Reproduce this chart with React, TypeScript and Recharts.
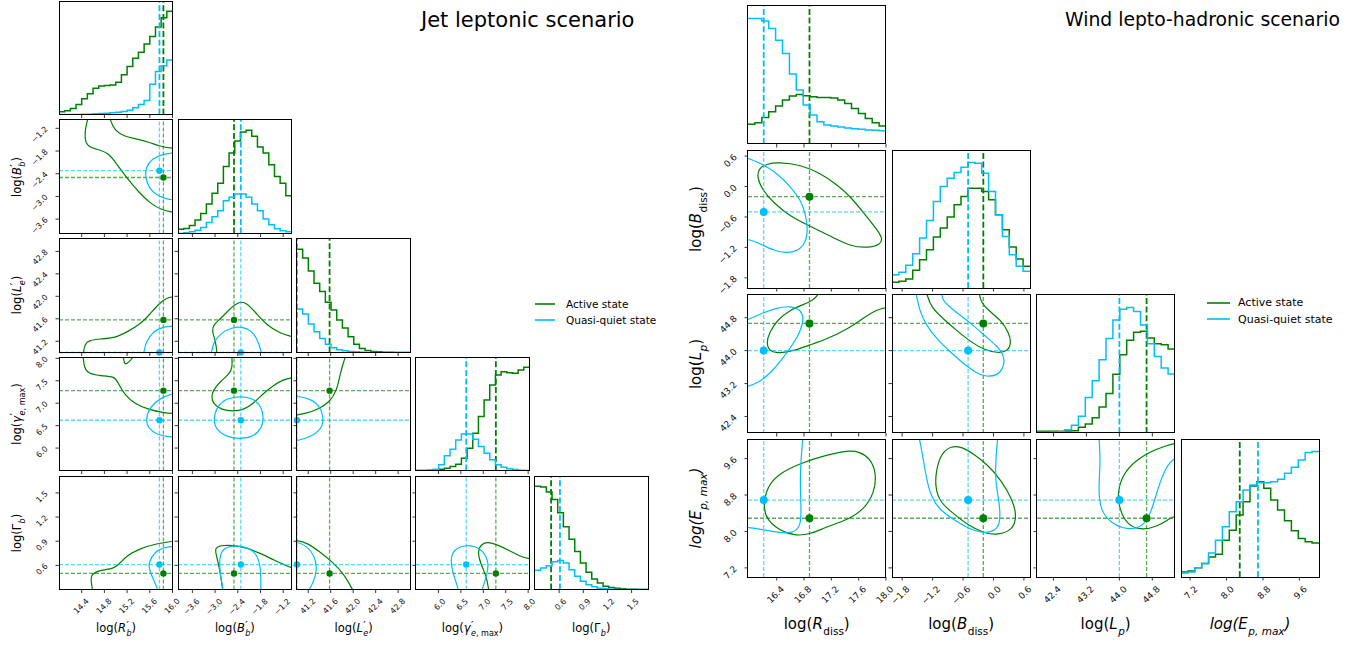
import React from "react";
import { ComposedChart, Line, XAxis, YAxis, ReferenceLine, ReferenceDot } from "recharts";

const GREEN = "#008000";
const BLUE = "#00bfff";
const FONT = "'DejaVu Sans', sans-serif";

type Pts = [number, number][];

// ---------------- Jet leptonic scenario (left corner plot) ----------------
const jetDomains: [number, number][] = [[14.0, 16.0], [-3.98, -0.98], [41.0, 43.02], [5.5, 8.03], [0.3, 1.71]];
const jetTicks: number[][] = [
  [14.4, 14.8, 15.2, 15.6, 16.0],
  [-3.6, -3.0, -2.4, -1.8, -1.2],
  [41.2, 41.6, 42.0, 42.4, 42.8],
  [6.0, 6.5, 7.0, 7.5, 8.0],
  [0.6, 0.9, 1.2, 1.5],
];
const jetActiveBest = [15.84, -2.5, 41.58, 7.28, 0.5];
const jetQuietBest = [15.77, -2.32, 41.0, 6.62, 0.61];

// histogram counts (20 bins across each panel range)
const jetActiveHist: number[][] = [
  [8, 11, 18, 30, 47, 62, 78, 85, 86, 88, 96, 118, 143, 167, 185, 210, 232, 260, 288, 307],
  [13, 15, 24, 40, 60, 88, 120, 150, 200, 240, 276, 303, 308, 290, 258, 240, 205, 170, 150, 113],
  [308, 282, 243, 207, 182, 150, 127, 97, 73, 47, 25, 12, 6, 3, 2, 1, 1, 0, 0, 0],
  [0, 0, 1, 2, 4, 7, 12, 19, 37, 67, 112, 162, 212, 257, 287, 297, 294, 292, 302, 310],
  [312, 310, 295, 272, 232, 190, 152, 115, 80, 52, 32, 20, 10, 6, 4, 2, 1, 1, 0, 0],
];
const jetQuietHist: number[][] = [
  [0, 0, 0, 0, 1, 1, 2, 3, 4, 5, 7, 9, 13, 20, 30, 42, 90, 128, 145, 162],
  [0, 2, 5, 10, 18, 33, 50, 68, 98, 108, 118, 118, 108, 88, 68, 43, 26, 14, 8, 5],
  [130, 115, 85, 62, 42, 25, 14, 8, 5, 3, 2, 1, 0, 0, 0, 0, 0, 0, 0, 0],
  [0, 0, 1, 4, 17, 44, 64, 92, 110, 110, 94, 72, 52, 32, 17, 10, 5, 3, 1, 0],
  [58, 65, 72, 84, 88, 80, 60, 40, 25, 14, 8, 4, 2, 1, 0, 0, 0, 0, 0, 0],
];

// 2D contours, [x, y] in data units
const jetBvsRActive: Pts = [[16.08, -3.44], [16.0, -3.42], [15.78, -3.34], [15.6, -3.17], [15.43, -2.92], [15.31, -2.72], [15.13, -2.38], [14.98, -2.07], [14.87, -1.86], [14.72, -1.77], [14.51, -1.7], [14.45, -1.48], [14.47, -1.17], [14.5, -0.98], [14.57, -0.65], [14.72, -0.56], [14.87, -0.73], [14.9, -0.98], [14.98, -1.26], [15.16, -1.42], [15.37, -1.48], [15.58, -1.56], [15.78, -1.68], [16.0, -1.73], [16.14, -1.75]];
const jetBvsRQuiet: Pts = [[16.14, -1.85], [16.0, -1.85], [15.84, -1.88], [15.63, -2.01], [15.53, -2.23], [15.52, -2.5], [15.58, -2.76], [15.72, -2.98], [15.9, -3.07], [16.0, -3.09], [16.14, -3.1]];
const jetLvsRActive: Pts = [[14.41, 40.91], [14.43, 40.98], [14.45, 41.15], [14.54, 41.22], [14.72, 41.24], [14.99, 41.26], [15.19, 41.36], [15.43, 41.5], [15.6, 41.68], [15.78, 41.89], [15.9, 41.97], [16.0, 41.99], [16.14, 42.0]];
const jetLvsRQuiet: Pts = [[15.48, 40.91], [15.49, 40.98], [15.53, 41.19], [15.66, 41.38], [15.84, 41.46], [16.0, 41.47], [16.14, 41.48]];
const jetLvsBActive: Pts = [[-2.94, 40.91], [-2.95, 40.98], [-2.98, 41.19], [-3.08, 41.37], [-3.05, 41.49], [-2.87, 41.59], [-2.61, 41.78], [-2.36, 41.91], [-2.17, 41.89], [-1.9, 41.69], [-1.64, 41.49], [-1.28, 41.34], [-0.98, 41.28], [-0.75, 41.26]];
const jetLvsBQuiet: Pts = [[-3.11, 40.91], [-3.1, 40.98], [-3.05, 41.18], [-2.83, 41.36], [-2.52, 41.45], [-2.3, 41.46], [-2.03, 41.39], [-1.86, 41.21], [-1.77, 40.98], [-1.75, 40.91]];
const jetGvsRActive: Pts = [[14.41, 8.1], [14.43, 8.03], [14.44, 7.81], [14.51, 7.66], [14.72, 7.61], [14.99, 7.6], [15.04, 7.45], [15.15, 7.2], [15.34, 6.98], [15.6, 6.85], [15.84, 6.79], [16.0, 6.77], [16.14, 6.76]];
const jetGvsRActiveHook: Pts = [[15.13, 8.07], [15.15, 7.85], [15.22, 7.9], [15.3, 8.01], [15.31, 8.07]];
const jetGvsRQuiet: Pts = [[16.14, 7.23], [16.0, 7.22], [15.78, 7.11], [15.6, 6.92], [15.52, 6.61], [15.58, 6.44], [15.72, 6.29], [16.0, 6.24], [16.14, 6.24]];
const jetGvsBActive: Pts = [[-2.55, 8.1], [-2.56, 8.03], [-2.54, 7.81], [-2.61, 7.66], [-2.87, 7.48], [-3.05, 7.29], [-3.1, 7.14], [-3.05, 6.99], [-2.83, 6.85], [-2.52, 6.82], [-2.25, 6.85], [-1.99, 6.99], [-1.72, 7.22], [-1.46, 7.4], [-1.19, 7.53], [-0.98, 7.57], [-0.75, 7.59]];
const jetGvsBQuiet: Pts = [[-2.34, 7.16], [-2.7, 7.11], [-2.96, 6.92], [-3.05, 6.62], [-2.96, 6.4], [-2.7, 6.25], [-2.34, 6.2], [-1.99, 6.25], [-1.77, 6.44], [-1.71, 6.66], [-1.77, 6.92], [-1.99, 7.11]];
const jetGvsLActive: Pts = [[41.87, 8.1], [41.86, 8.03], [41.82, 7.88], [41.77, 7.66], [41.71, 7.29], [41.59, 7.03], [41.36, 6.85], [41.12, 6.76], [41.0, 6.74], [40.88, 6.72]];
const jetGvsLQuiet: Pts = [[40.88, 7.16], [41.0, 7.16], [41.24, 7.1], [41.42, 6.92], [41.48, 6.62], [41.42, 6.4], [41.24, 6.25], [41.03, 6.17], [40.88, 6.15]];
const jetGamvsRActive: Pts = [[14.6, 0.25], [14.59, 0.3], [14.56, 0.42], [14.57, 0.49], [14.72, 0.54], [14.96, 0.56], [15.04, 0.6], [15.19, 0.72], [15.43, 0.81], [15.72, 0.87], [16.0, 0.9], [16.14, 0.91]];
const jetGamvsRQuiet: Pts = [[15.75, 0.25], [15.74, 0.3], [15.68, 0.4], [15.59, 0.54], [15.58, 0.64], [15.69, 0.77], [15.84, 0.82], [16.0, 0.84], [16.14, 0.84]];
const jetGamvsBActive: Pts = [[-2.79, 0.25], [-2.8, 0.3], [-2.87, 0.54], [-2.98, 0.75], [-3.0, 0.81], [-2.87, 0.85], [-2.52, 0.85], [-2.17, 0.82], [-1.81, 0.75], [-1.46, 0.67], [-1.15, 0.6], [-0.98, 0.57], [-0.75, 0.55]];
const jetGamvsBQuiet: Pts = [[-2.77, 0.25], [-2.79, 0.3], [-2.87, 0.5], [-2.89, 0.69], [-2.8, 0.81], [-2.52, 0.85], [-2.17, 0.83], [-1.9, 0.75], [-1.79, 0.58], [-1.79, 0.3], [-1.79, 0.25]];
const jetGamvsLActive: Pts = [[40.8, 0.92], [41.0, 0.91], [41.18, 0.88], [41.4, 0.77], [41.62, 0.65], [41.84, 0.49], [41.99, 0.3], [42.03, 0.23]];
const jetGamvsLQuiet: Pts = [[40.85, 0.9], [41.0, 0.89], [41.18, 0.84], [41.32, 0.71], [41.36, 0.55], [41.29, 0.38], [41.21, 0.3], [41.18, 0.22]];
const jetGamvsGActive: Pts = [[7.13, 0.24], [7.12, 0.3], [7.07, 0.47], [6.93, 0.63], [6.87, 0.78], [6.97, 0.87], [7.1, 0.89], [7.3, 0.86], [7.6, 0.78], [7.82, 0.71], [8.03, 0.68], [8.19, 0.67]];
const jetGamvsGQuiet: Pts = [[6.46, 0.22], [6.45, 0.3], [6.34, 0.47], [6.26, 0.67], [6.34, 0.8], [6.62, 0.86], [6.93, 0.82], [7.12, 0.67], [7.1, 0.51], [6.97, 0.3], [6.95, 0.22]];

// ---------------- Wind lepto-hadronic scenario (right corner plot) ----------------
const windDomains: [number, number][] = [[15.98, 18.0], [-2.0, 0.72], [42.0, 45.35], [7.0, 10.03]];
const windTicks: number[][] = [
  [16.4, 16.8, 17.2, 17.6, 18.0],
  [-1.8, -1.2, -0.6, 0.0, 0.6],
  [42.4, 43.2, 44.0, 44.8],
  [7.2, 8.0, 8.8, 9.6],
];
const windActiveBest = [16.88, -0.2, 44.66, 8.29];
const windQuietBest = [16.21, -0.5, 44.0, 8.69];

const windActiveHist: number[][] = [
  [59, 64, 80, 97, 114, 132, 144, 149, 145, 142, 140, 140, 138, 132, 122, 107, 92, 77, 64, 54],
  [17, 20, 27, 53, 85, 115, 153, 180, 213, 250, 275, 300, 300, 290, 265, 220, 175, 123, 87, 65],
  [5, 5, 5, 5, 6, 7, 17, 27, 45, 77, 117, 174, 232, 275, 299, 302, 282, 265, 262, 249],
  [15, 18, 28, 40, 60, 68, 110, 140, 185, 225, 272, 285, 265, 230, 200, 168, 138, 115, 105, 102],
];
const windQuietHist: number[][] = [
  [377, 377, 370, 347, 312, 272, 210, 162, 117, 87, 67, 57, 54, 51, 48, 46, 44, 42, 41, 40],
  [40, 47, 68, 103, 150, 203, 260, 305, 330, 347, 363, 377, 375, 345, 290, 220, 155, 100, 65, 50],
  [2, 2, 3, 4, 10, 23, 50, 105, 155, 217, 280, 335, 367, 372, 360, 320, 265, 227, 193, 175],
  [12, 15, 28, 40, 72, 110, 150, 195, 225, 260, 275, 282, 282, 285, 292, 310, 328, 350, 372, 375],
];

const windBvsRQuiet: Pts = [[15.87, 0.59], [15.98, 0.56], [16.11, 0.49], [16.26, 0.39], [16.43, 0.23], [16.6, 0.0], [16.75, -0.26], [16.82, -0.53], [16.86, -0.85], [16.82, -1.12], [16.7, -1.28], [16.53, -1.31], [16.36, -1.26], [16.19, -1.15], [16.04, -1.06], [15.98, -1.05], [15.87, -1.02]];
const windBvsRActive: Pts = [[16.43, 0.48], [16.26, 0.45], [16.14, 0.36], [16.11, 0.2], [16.19, -0.07], [16.36, -0.33], [16.6, -0.59], [16.9, -0.79], [17.19, -0.98], [17.48, -1.18], [17.73, -1.21], [17.92, -1.15], [17.95, -1.02], [17.87, -0.85], [17.68, -0.53], [17.48, -0.2], [17.29, 0.03], [17.04, 0.26], [16.75, 0.43]];
const windLvsRQuiet: Pts = [[15.83, 44.67], [15.98, 44.75], [16.13, 44.87], [16.38, 45.03], [16.6, 45.09], [16.76, 44.99], [16.8, 44.75], [16.72, 44.35], [16.53, 43.9], [16.32, 43.46], [16.13, 43.22], [15.98, 43.13], [15.83, 43.08]];
const windLvsRActive: Pts = [[17.03, 45.43], [17.0, 45.35], [16.94, 45.23], [16.78, 45.11], [16.6, 44.99], [16.41, 44.75], [16.29, 44.43], [16.25, 44.19], [16.29, 43.98], [16.44, 43.93], [16.66, 44.0], [16.87, 44.13], [17.12, 44.27], [17.43, 44.51], [17.67, 44.79], [17.86, 44.99], [18.0, 45.05], [18.17, 45.09]];
const windLvsBQuiet: Pts = [[-1.54, 45.46], [-1.52, 45.35], [-1.46, 44.98], [-1.33, 44.62], [-1.1, 44.26], [-0.83, 43.94], [-0.57, 43.66], [-0.34, 43.46], [-0.15, 43.36], [0.08, 43.4], [0.2, 43.58], [0.22, 43.86], [0.08, 44.1], [-0.15, 44.34], [-0.44, 44.66], [-0.83, 45.02], [-1.0, 45.22], [-1.02, 45.35], [-1.02, 45.46]];
const windLvsBActive: Pts = [[-1.32, 45.46], [-1.31, 45.35], [-1.23, 45.06], [-1.0, 44.78], [-0.7, 44.46], [-0.41, 44.18], [-0.18, 44.02], [0.08, 43.94], [0.28, 43.98], [0.35, 44.18], [0.31, 44.42], [0.15, 44.74], [-0.11, 44.98], [-0.24, 45.18], [-0.28, 45.35], [-0.28, 45.46]];
const windEvsRActive: Pts = [[17.46, 9.78], [17.12, 9.68], [16.75, 9.5], [16.44, 9.28], [16.26, 8.99], [16.2, 8.54], [16.26, 8.25], [16.44, 8.03], [16.66, 7.9], [16.9, 7.94], [17.12, 8.1], [17.43, 8.25], [17.67, 8.47], [17.83, 8.84], [17.86, 9.28], [17.77, 9.61], [17.61, 9.75]];
const windEvsRQuiet: Pts = [[15.83, 8.1], [15.98, 8.09], [16.2, 8.04], [16.44, 7.97], [16.63, 7.96], [16.75, 8.1], [16.76, 8.47], [16.74, 9.13], [16.76, 9.65], [16.78, 10.03], [16.79, 10.13]];
const windEvsBActive: Pts = [[-0.83, 9.88], [-1.03, 9.72], [-1.13, 9.35], [-1.15, 8.98], [-1.06, 8.65], [-0.83, 8.43], [-0.51, 8.14], [-0.18, 7.96], [0.08, 7.92], [0.38, 8.03], [0.46, 8.33], [0.38, 8.69], [0.15, 9.13], [-0.11, 9.46], [-0.41, 9.72], [-0.64, 9.86]];
const windEvsBQuiet: Pts = [[-1.47, 10.12], [-1.46, 10.03], [-1.39, 9.64], [-1.33, 9.2], [-1.23, 8.76], [-1.06, 8.47], [-0.77, 8.25], [-0.51, 8.07], [-0.21, 7.96], [0.02, 8.0], [0.14, 8.18], [0.12, 8.62], [0.03, 9.13], [0.05, 9.64], [0.08, 10.03], [0.09, 10.12]];
const windEvsLQuiet: Pts = [[43.5, 10.13], [43.51, 10.03], [43.54, 9.5], [43.49, 8.91], [43.54, 8.47], [43.79, 8.18], [44.2, 8.03], [44.56, 8.1], [44.77, 8.4], [44.92, 8.91], [45.13, 9.43], [45.35, 9.63], [45.59, 9.66]];
const windEvsLActive: Pts = [[45.59, 9.98], [45.35, 9.94], [45.13, 9.88], [44.77, 9.76], [44.41, 9.57], [44.1, 9.28], [43.95, 8.88], [44.0, 8.47], [44.2, 8.14], [44.51, 8.03], [44.92, 8.1], [45.23, 8.29], [45.35, 8.34], [45.59, 8.36]];

type ContourSet = { active: Pts[]; quiet: Pts; activeClosed?: boolean; quietClosed?: boolean };

const jetContours: Record<string, ContourSet> = {
  "1-0": { active: [jetBvsRActive], quiet: jetBvsRQuiet },
  "2-0": { active: [jetLvsRActive], quiet: jetLvsRQuiet },
  "2-1": { active: [jetLvsBActive], quiet: jetLvsBQuiet },
  "3-0": { active: [jetGvsRActive, jetGvsRActiveHook], quiet: jetGvsRQuiet },
  "3-1": { active: [jetGvsBActive], quiet: jetGvsBQuiet, quietClosed: true },
  "3-2": { active: [jetGvsLActive], quiet: jetGvsLQuiet },
  "4-0": { active: [jetGamvsRActive], quiet: jetGamvsRQuiet },
  "4-1": { active: [jetGamvsBActive], quiet: jetGamvsBQuiet },
  "4-2": { active: [jetGamvsLActive], quiet: jetGamvsLQuiet },
  "4-3": { active: [jetGamvsGActive], quiet: jetGamvsGQuiet },
};

const windContours: Record<string, ContourSet> = {
  "1-0": { active: [windBvsRActive], quiet: windBvsRQuiet, activeClosed: true },
  "2-0": { active: [windLvsRActive], quiet: windLvsRQuiet },
  "2-1": { active: [windLvsBActive], quiet: windLvsBQuiet },
  "3-0": { active: [windEvsRActive], quiet: windEvsRQuiet, activeClosed: true },
  "3-1": { active: [windEvsBActive], quiet: windEvsBQuiet, activeClosed: true },
  "3-2": { active: [windEvsLActive], quiet: windEvsLQuiet },
};

// prime above, subscript below, stacked like mathtext
function PS({ sup, sub }: { sup?: React.ReactNode; sub?: React.ReactNode }) {
  return (
    <span style={{ display: "inline-block", fontSize: "0.7em", lineHeight: "0.95em", verticalAlign: "-0.5em", textAlign: "left", marginLeft: "0.05em" }}>
      <span style={{ display: "block", fontSize: "1.35em", lineHeight: "0.75em" }}>{sup ?? "\u00a0"}</span>
      <span style={{ display: "block" }}>{sub}</span>
    </span>
  );
}

const jetNames: React.ReactNode[] = [
  <>log(<i>R</i><PS sup="′" sub={<i>b</i>} />)</>,
  <>log(<i>B</i><PS sup="′" sub={<i>b</i>} />)</>,
  <>log(<i>L</i><PS sup="′" sub={<i>e</i>} />)</>,
  <>log(<i>γ</i><PS sup="′" sub={<><i>e</i>, max</>} />)</>,
  <>log(Γ<PS sub={<i>b</i>} />)</>,
];
const windNames: React.ReactNode[] = [
  <>log(<i>R</i><PS sub="diss" />)</>,
  <>log(<i>B</i><PS sub="diss" />)</>,
  <>log(<i>L</i><PS sub={<i>p</i>} />)</>,
  <i>log(E<PS sub={<>p, max</>} />)</i>,
];

const fmt = (v: number) => v.toFixed(1).replace("-", "\u2212");

function histData(counts: number[], domain: [number, number]) {
  const n = counts.length;
  const w = (domain[1] - domain[0]) / n;
  const pts = counts.map((c, k) => ({ x: domain[0] + k * w, y: c }));
  pts.push({ x: domain[1], y: counts[n - 1] });
  return pts;
}

const toXY = (p: Pts) => p.map(([x, y]) => ({ x, y }));

const AX_W = 46;
const AX_H = 46;
const PAD_T = 12;
const PAD_R = 14;

function makeTick(show: boolean, fs: number, axis: "x" | "y") {
  return (props: any) => {
    const { x, y, payload } = props;
    if (!show) return <g />;
    const tx = axis === "x" ? x + 6 : x - 7;
    const ty = axis === "x" ? y + 5 : y - 0.5;
    return (
      <text
        transform={`translate(${tx},${ty}) rotate(-45)`}
        textAnchor="end"
        dominantBaseline="central"
        fontSize={fs}
        fontFamily={FONT}
        fill="#111"
      >
        {fmt(payload.value)}
      </text>
    );
  };
}

type PanelProps = {
  left: number;
  top: number;
  size: number;
  xDomain: [number, number];
  yDomain: [number, number];
  xTicks: number[];
  yTicks: number[];
  xLabels: boolean;
  yLabels: boolean;
  tickFont: number;
  children: React.ReactNode;
};

function Panel({ left, top, size, xDomain, yDomain, xTicks, yTicks, xLabels, yLabels, tickFont, children }: PanelProps) {
  const w = size + AX_W + PAD_R;
  const h = size + AX_H + PAD_T;
  return (
    <div style={{ position: "absolute", left: left - AX_W, top: top - PAD_T, width: w, height: h }}>
      <ComposedChart width={w} height={h} margin={{ top: PAD_T, right: PAD_R, bottom: 0, left: 0 }}>
        <XAxis
          type="number"
          dataKey="x"
          domain={xDomain}
          allowDataOverflow
          ticks={xTicks}
          interval={0}
          height={AX_H}
          tickSize={3.5}
          axisLine={false}
          tickLine={{ stroke: "#000", strokeWidth: 0.8 }}
          tick={makeTick(xLabels, tickFont, "x")}
        />
        <YAxis
          type="number"
          dataKey="y"
          domain={yDomain}
          allowDataOverflow
          ticks={yTicks}
          interval={0}
          width={AX_W}
          tickSize={3.5}
          axisLine={false}
          tickLine={yTicks.length ? { stroke: "#000", strokeWidth: 0.8 } : false}
          tick={yTicks.length ? makeTick(yLabels, tickFont, "y") : false}
        />
        {children}
      </ComposedChart>
      <div
        style={{
          position: "absolute",
          left: AX_W - 0.5,
          top: PAD_T - 0.5,
          width: size + 1,
          height: size + 1,
          border: "1px solid #000",
          boxSizing: "border-box",
          pointerEvents: "none",
        }}
      />
    </div>
  );
}

type CornerProps = {
  x0: number;
  y0: number;
  step: number;
  size: number;
  domains: [number, number][];
  ticks: number[][];
  activeBest: number[];
  quietBest: number[];
  activeHist: number[][];
  quietHist: number[][];
  contours: Record<string, ContourSet>;
  tickFont: number;
  dotR: number;
};

function Corner(p: CornerProps) {
  const n = p.domains.length;
  const panels: React.ReactNode[] = [];
  const thin = { strokeWidth: 1.3, strokeDasharray: "4 2", strokeOpacity: 0.65 };
  const thick = { strokeWidth: 1.8, strokeDasharray: "6 2.6" };
  for (let i = 0; i < n; i++) {
    for (let j = 0; j <= i; j++) {
      const left = p.x0 + j * p.step;
      const top = p.y0 + i * p.step;
      if (i === j) {
        const ymax = 1.1 * Math.max(...p.activeHist[i], ...p.quietHist[i]);
        panels.push(
          <Panel key={`${i}-${j}`} left={left} top={top} size={p.size} xDomain={p.domains[j]} yDomain={[0, ymax]}
            xTicks={p.ticks[j]} yTicks={[]} xLabels={i === n - 1} yLabels={false} tickFont={p.tickFont}>
            <Line data={histData(p.activeHist[i], p.domains[i])} dataKey="y" type="stepAfter" stroke={GREEN}
              strokeWidth={1.5} dot={false} activeDot={false} isAnimationActive={false} />
            <ReferenceLine x={p.activeBest[i]} stroke={GREEN} {...thick} />
            <Line data={histData(p.quietHist[i], p.domains[i])} dataKey="y" type="stepAfter" stroke={BLUE}
              strokeWidth={1.5} dot={false} activeDot={false} isAnimationActive={false} />
            <ReferenceLine x={p.quietBest[i]} stroke={BLUE} {...thick} />
          </Panel>
        );
      } else {
        const c = p.contours[`${i}-${j}`];
        panels.push(
          <Panel key={`${i}-${j}`} left={left} top={top} size={p.size} xDomain={p.domains[j]} yDomain={p.domains[i]}
            xTicks={p.ticks[j]} yTicks={p.ticks[i]} xLabels={i === n - 1} yLabels={j === 0} tickFont={p.tickFont}>
            {c.active.map((pts, k) => (
              <Line key={`a${k}`} data={toXY(pts)} dataKey="y" type={c.activeClosed ? "basisClosed" : "basis"}
                stroke={GREEN} strokeWidth={1.2} dot={false} activeDot={false} isAnimationActive={false} />
            ))}
            <ReferenceLine x={p.activeBest[j]} stroke={GREEN} {...thin} />
            <ReferenceLine y={p.activeBest[i]} stroke={GREEN} {...thin} />
            <Line data={toXY(c.quiet)} dataKey="y" type={c.quietClosed ? "basisClosed" : "basis"}
              stroke={BLUE} strokeWidth={1.2} dot={false} activeDot={false} isAnimationActive={false} />
            <ReferenceLine x={p.quietBest[j]} stroke={BLUE} {...thin} />
            <ReferenceLine y={p.quietBest[i]} stroke={BLUE} {...thin} />
            <ReferenceDot x={p.activeBest[j]} y={p.activeBest[i]} r={p.dotR} fill={GREEN} stroke="none" />
            <ReferenceDot x={p.quietBest[j]} y={p.quietBest[i]} r={p.dotR} fill={BLUE} stroke="none" />
          </Panel>
        );
      }
    }
  }
  return <>{panels}</>;
}

function Legend({ left, top, lineLen, gap, fontSize }: { left: number; top: number; lineLen: number; gap: number; fontSize: number }) {
  const rows = [
    { label: "Active state", color: GREEN },
    { label: "Quasi-quiet state", color: BLUE },
  ];
  return (
    <div style={{ position: "absolute", left, top, fontFamily: FONT, fontSize }}>
      {rows.map((r) => (
        <div key={r.label} style={{ display: "flex", alignItems: "center", height: 16.5 }}>
          <svg width={lineLen} height={6} style={{ marginRight: gap, display: "block" }}>
            <line x1={0} y1={3} x2={lineLen} y2={3} stroke={r.color} strokeWidth={1.6} />
          </svg>
          <span style={{ whiteSpace: "nowrap", color: "#000" }}>{r.label}</span>
        </div>
      ))}
    </div>
  );
}

function XName({ cx, cy, fs, children }: { cx: number; cy: number; fs: number; children: React.ReactNode }) {
  return (
    <div style={{ position: "absolute", left: cx, top: cy, transform: "translate(-50%, -50%)", whiteSpace: "nowrap", fontFamily: FONT, fontSize: fs, lineHeight: 1 }}>
      {children}
    </div>
  );
}

function YName({ cx, cy, fs, children }: { cx: number; cy: number; fs: number; children: React.ReactNode }) {
  return (
    <div style={{ position: "absolute", left: cx, top: cy, transform: "translate(-50%, -50%) rotate(-90deg)", whiteSpace: "nowrap", fontFamily: FONT, fontSize: fs, lineHeight: 1 }}>
      {children}
    </div>
  );
}

const JET = { x0: 59.3, y0: 1, step: 118.8, size: 113.5 };
const WIND = { x0: 747.7, y0: 5.7, step: 144.45, size: 138 };

export default function App() {
  return (
    <div style={{ position: "absolute", left: 0, top: 0, width: 1363, height: 645, background: "#fff", overflow: "hidden", fontFamily: FONT }}>
      <Corner {...JET} domains={jetDomains} ticks={jetTicks} activeBest={jetActiveBest} quietBest={jetQuietBest}
        activeHist={jetActiveHist} quietHist={jetQuietHist} contours={jetContours} tickFont={8} dotR={3.2} />
      <Corner {...WIND} domains={windDomains} ticks={windTicks} activeBest={windActiveBest} quietBest={windQuietBest}
        activeHist={windActiveHist} quietHist={windQuietHist} contours={windContours} tickFont={9} dotR={4} />

      {jetNames.map((nm, k) => (
        <XName key={`jx${k}`} cx={JET.x0 + k * JET.step + JET.size / 2} cy={630} fs={11.5}>{nm}</XName>
      ))}
      {jetNames.slice(1).map((nm, k) => (
        <YName key={`jy${k}`} cx={19} cy={JET.y0 + (k + 1) * JET.step + JET.size / 2} fs={11.5}>{nm}</YName>
      ))}
      {windNames.map((nm, k) => (
        <XName key={`wx${k}`} cx={WIND.x0 + k * WIND.step + WIND.size / 2} cy={626} fs={15}>{nm}</XName>
      ))}
      {windNames.slice(1).map((nm, k) => (
        <YName key={`wy${k}`} cx={698} cy={WIND.y0 + (k + 1) * WIND.step + WIND.size / 2} fs={15}>{nm}</YName>
      ))}

      <div style={{ position: "absolute", left: 421, top: 8, fontSize: 21, whiteSpace: "nowrap" }}>Jet leptonic scenario</div>
      <div style={{ position: "absolute", left: 1065, top: 9, fontSize: 18.8, whiteSpace: "nowrap" }}>Wind lepto-hadronic scenario</div>

      <Legend left={535} top={295.5} lineLen={20} gap={11} fontSize={10.5} />
      <Legend left={1207} top={294.5} lineLen={23} gap={8} fontSize={11} />
    </div>
  );
}
